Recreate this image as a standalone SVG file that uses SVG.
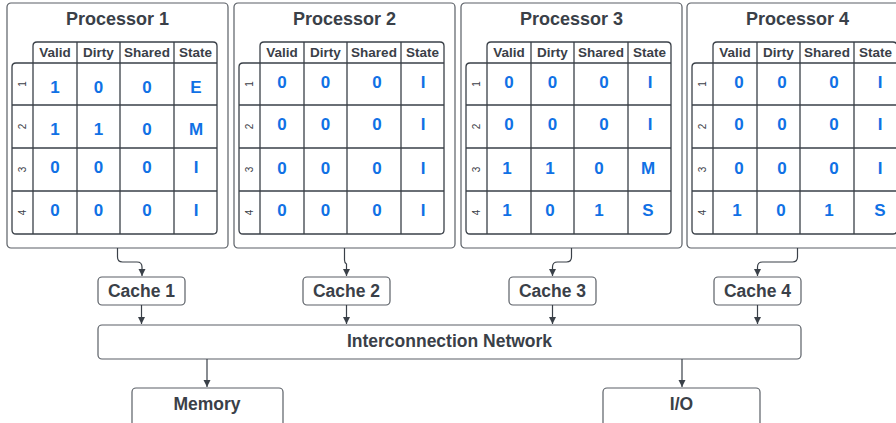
<svg xmlns="http://www.w3.org/2000/svg" width="896" height="423" viewBox="0 0 896 423">
<defs>
<style>
.box{fill:#fff;stroke:#5a5f66;stroke-width:1.2}
.tbl{fill:none;stroke:#3a4048;stroke-width:1.3}
.title{font-family:"Liberation Sans",Arial,sans-serif;font-weight:bold;font-size:18px;fill:#3a4048;text-anchor:middle}
.hd{font-family:"Liberation Sans",Arial,sans-serif;font-weight:bold;font-size:13.5px;fill:#3a4048;text-anchor:middle}
.v{font-family:"Liberation Sans",Arial,sans-serif;font-weight:bold;font-size:17px;fill:#1071e5;text-anchor:middle}
.rn{font-family:"Liberation Sans",Arial,sans-serif;font-size:10px;fill:#3a4048;text-anchor:middle}
.lbl{font-family:"Liberation Sans",Arial,sans-serif;font-weight:bold;font-size:17.5px;fill:#3a4048;text-anchor:middle}
.conn{fill:none;stroke:#3a4048;stroke-width:1.2}
</style>
<marker id="arr" markerWidth="8" markerHeight="8" refX="7" refY="4" orient="auto" markerUnits="userSpaceOnUse">
<path d="M0,0.5 L7,4 L0,7.5 Z" fill="#3a4048"/>
</marker>
<g id="tablegrid">
<path class="tbl" d="M26,60 V43 Q26,39 30,39 H206 Q210,39 210,43 V227 Q210,231 206,231 H9 Q5,231 5,227 V64 Q5,60 9,60 H210"/>
<path class="tbl" d="M26,60 V231 M70,39 V231 M113,39 V231 M167,39 V231 M5,102 H210 M5,145 H210 M5,188 H210"/>
<text class="hd" x="48" y="53.5">Valid</text>
<text class="hd" x="91.5" y="53.5">Dirty</text>
<text class="hd" x="140" y="53.5">Shared</text>
<text class="hd" x="188.5" y="53.5">State</text>
<text class="rn" transform="translate(19,81) rotate(-90)">1</text>
<text class="rn" transform="translate(19,123.5) rotate(-90)">2</text>
<text class="rn" transform="translate(19,166.5) rotate(-90)">3</text>
<text class="rn" transform="translate(19,209.5) rotate(-90)">4</text>
</g>
</defs>

<g id="processor1" transform="translate(7,3)">
<rect class="box" x="0" y="0" width="221" height="245" rx="4"/>
<text class="title" x="110.5" y="22">Processor 1</text>
<use href="#tablegrid"/>
<text class="v" x="48" y="90">1</text><text class="v" x="91.5" y="90">0</text><text class="v" x="140" y="90">0</text><text class="v" x="189" y="90">E</text>
<text class="v" x="48" y="132">1</text><text class="v" x="91.5" y="132">1</text><text class="v" x="140" y="132">0</text><text class="v" x="189" y="132">M</text>
<text class="v" x="48" y="170">0</text><text class="v" x="91.5" y="170">0</text><text class="v" x="140" y="170">0</text><text class="v" x="189" y="170">I</text>
<text class="v" x="48" y="213">0</text><text class="v" x="91.5" y="213">0</text><text class="v" x="140" y="213">0</text><text class="v" x="189" y="213">I</text>
</g>

<g id="processor2" transform="translate(234,3)">
<rect class="box" x="0" y="0" width="221" height="245" rx="4"/>
<text class="title" x="110.5" y="22">Processor 2</text>
<use href="#tablegrid"/>
<text class="v" x="48" y="85">0</text><text class="v" x="91.5" y="85">0</text><text class="v" x="143" y="85">0</text><text class="v" x="189" y="85">I</text>
<text class="v" x="48" y="127">0</text><text class="v" x="91.5" y="127">0</text><text class="v" x="143" y="127">0</text><text class="v" x="189" y="127">I</text>
<text class="v" x="48" y="171">0</text><text class="v" x="91.5" y="171">0</text><text class="v" x="143" y="171">0</text><text class="v" x="189" y="171">I</text>
<text class="v" x="48" y="213">0</text><text class="v" x="91.5" y="213">0</text><text class="v" x="143" y="213">0</text><text class="v" x="189" y="213">I</text>
</g>

<g id="processor3" transform="translate(461,3)">
<rect class="box" x="0" y="0" width="221" height="245" rx="4"/>
<text class="title" x="110.5" y="22">Processor 3</text>
<use href="#tablegrid"/>
<text class="v" x="48" y="85">0</text><text class="v" x="91.5" y="85">0</text><text class="v" x="143" y="85">0</text><text class="v" x="189" y="85">I</text>
<text class="v" x="48" y="127">0</text><text class="v" x="91.5" y="127">0</text><text class="v" x="143" y="127">0</text><text class="v" x="189" y="127">I</text>
<text class="v" x="46" y="171">1</text><text class="v" x="89" y="171">1</text><text class="v" x="138" y="171">0</text><text class="v" x="187" y="171">M</text>
<text class="v" x="46" y="213">1</text><text class="v" x="89" y="213">0</text><text class="v" x="138" y="213">1</text><text class="v" x="187" y="213">S</text>
</g>

<g id="processor4" transform="translate(687,3)">
<rect class="box" x="0" y="0" width="221" height="245" rx="4"/>
<text class="title" x="110.5" y="22">Processor 4</text>
<use href="#tablegrid"/>
<text class="v" x="52" y="85">0</text><text class="v" x="95" y="85">0</text><text class="v" x="147" y="85">0</text><text class="v" x="193" y="85">I</text>
<text class="v" x="52" y="127">0</text><text class="v" x="95" y="127">0</text><text class="v" x="147" y="127">0</text><text class="v" x="193" y="127">I</text>
<text class="v" x="52" y="171">0</text><text class="v" x="95" y="171">0</text><text class="v" x="147" y="171">0</text><text class="v" x="193" y="171">I</text>
<text class="v" x="50" y="213">1</text><text class="v" x="94" y="213">0</text><text class="v" x="142" y="213">1</text><text class="v" x="193" y="213">S</text>
</g>

<g id="cache1"><rect class="box" x="98" y="277" width="87" height="28" rx="4"/><text class="lbl" x="141.5" y="297">Cache 1</text></g>
<g id="cache2"><rect class="box" x="303" y="277" width="87" height="28" rx="4"/><text class="lbl" x="346.5" y="297">Cache 2</text></g>
<g id="cache3"><rect class="box" x="509" y="277" width="87" height="28" rx="4"/><text class="lbl" x="552.5" y="297">Cache 3</text></g>
<g id="cache4"><rect class="box" x="714" y="277" width="87" height="28" rx="4"/><text class="lbl" x="757.5" y="297">Cache 4</text></g>

<g id="network"><rect class="box" x="98" y="325" width="703" height="34" rx="4"/><text class="lbl" x="449.5" y="346.5">Interconnection Network</text></g>
<g id="memory"><rect class="box" x="132" y="388" width="151" height="40" rx="4"/><text class="lbl" x="207" y="410">Memory</text></g>
<g id="io"><rect class="box" x="603" y="388" width="157" height="40" rx="4"/><text class="lbl" x="681.5" y="410">I/O</text></g>

<g id="connectors">
<path class="conn" marker-end="url(#arr)" d="M117.5,248 V257 Q117.5,262 122.5,262 H137 Q142,262 142,267 V276"/>
<path class="conn" marker-end="url(#arr)" d="M344.5,248 V260 Q344.5,263 346.5,264 V276"/>
<path class="conn" marker-end="url(#arr)" d="M571.5,248 V257 Q571.5,262 566.5,262 H557.5 Q552.5,262 552.5,267 V276"/>
<path class="conn" marker-end="url(#arr)" d="M797.5,248 V257 Q797.5,262 792.5,262 H762.5 Q757.5,262 757.5,267 V276"/>
<path class="conn" marker-end="url(#arr)" d="M141.5,305 V324"/>
<path class="conn" marker-end="url(#arr)" d="M346.5,305 V324"/>
<path class="conn" marker-end="url(#arr)" d="M552.5,305 V324"/>
<path class="conn" marker-end="url(#arr)" d="M757.5,305 V324"/>
<path class="conn" marker-end="url(#arr)" d="M207,359 V387"/>
<path class="conn" marker-end="url(#arr)" d="M682,359 V387"/>
</g>
</svg>
